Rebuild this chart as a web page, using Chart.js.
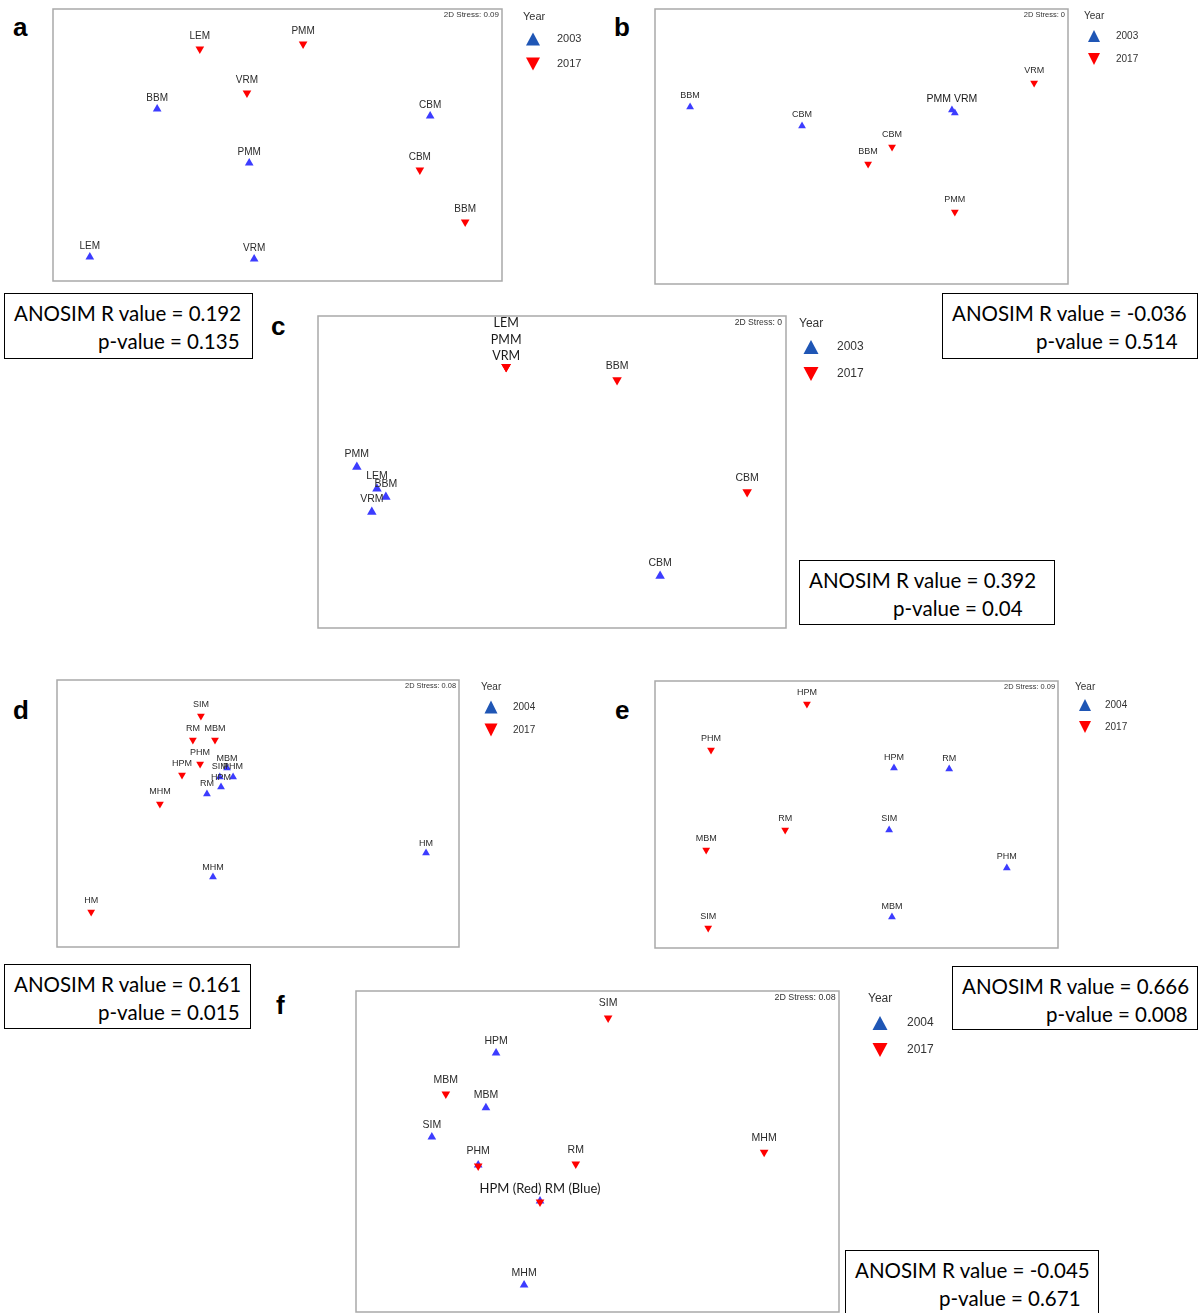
<!DOCTYPE html>
<html><head><meta charset="utf-8">
<script src="https://cdn.jsdelivr.net/npm/chart.js@4.4.0/dist/chart.umd.min.js"></script>
<style>
html,body{margin:0;padding:0;background:#fff;overflow:hidden}
#page{position:relative;width:1202px;height:1313px;overflow:hidden}
canvas{position:absolute}
.letter{position:absolute;font:bold 26px "Liberation Sans",Arial,sans-serif;color:#000;line-height:26px}
.anosim{position:absolute;border:1px solid #000;box-sizing:border-box;font-family:Lato,"Open Sans",sans-serif;font-size:20.5px;color:#000;padding:5px 0 0 9px;line-height:28px;white-space:nowrap;background:#fff}
.anosim .l2{margin-left:84px}
</style></head>
<body><div id="page"></div>
<script>
// ---------------- DATA ----------------
// Panel a (2003 vs 2017)
const a_years = ['2003', '2017'];
const a_sites_early = ['BBM','CBM','PMM','LEM','VRM'];
const a_x_early = [23.2, 84.0, 43.7, 8.2, 44.8];
const a_y_early = [63.2, 60.7, 43.4, 8.8, 8.1];
const a_sites_late = ['LEM','PMM','VRM','CBM','BBM'];
const a_x_late = [32.7, 55.7, 43.2, 81.7, 91.8];
const a_y_late = [85.3, 87.1, 69.1, 40.8, 21.7];

// Panel b (2003 vs 2017)
const b_years = ['2003', '2017'];
const b_sites_early = ['BBM','CBM','PMM','VRM'];
const b_labels_early = ['BBM','CBM','PMM VRM',''];
const b_x_early = [8.5, 35.6, 71.9, 72.6];
const b_y_early = [64.4, 57.5, 63.3, 62.2];
const b_sites_late = ['VRM','CBM','BBM','PMM'];
const b_x_late = [91.8, 57.4, 51.6, 72.6];
const b_y_late = [73.1, 49.8, 43.6, 26.2];

// Panel c (2003 vs 2017)
const c_years = ['2003', '2017'];
const c_sites_early = ['PMM','LEM','BBM','VRM','CBM'];
const c_x_early = [8.3, 12.6, 14.5, 11.5, 73.1];
const c_y_early = [51.6, 44.6, 42.0, 37.2, 16.7];
const c_sites_late = ['LEM','PMM','VRM','BBM','CBM'];
const c_labels_late = ['LEM\nPMM\nVRM','','','BBM','CBM'];
const c_x_late = [40.2, 40.2, 40.2, 63.9, 91.7];
const c_y_late = [83.7, 83.7, 83.7, 79.5, 43.6];

// Panel d (2004 vs 2017)
const d_years = ['2004', '2017'];
const d_sites_early = ['MBM','SIM','PHM','HPM','RM','MHM','HM'];
const d_x_early = [42.3, 40.5, 43.8, 40.8, 37.3, 38.8, 91.8];
const d_y_early = [67.0, 63.7, 63.7, 59.9, 57.3, 26.2, 35.2];
const d_sites_late = ['SIM','RM','MBM','PHM','HPM','MHM','HM'];
const d_x_late = [35.8, 33.8, 39.3, 35.6, 31.1, 25.6, 8.5];
const d_y_late = [86.5, 77.5, 77.5, 68.5, 64.4, 53.6, 13.1];

// Panel e (2004 vs 2017)
const e_years = ['2004', '2017'];
const e_sites_early = ['HPM','RM','SIM','PHM','MBM'];
const e_x_early = [59.3, 73.0, 58.1, 87.3, 58.8];
const e_y_early = [67.4, 67.0, 44.2, 30.0, 11.6];
const e_sites_late = ['HPM','PHM','RM','MBM','SIM'];
const e_x_late = [37.7, 13.9, 32.3, 12.7, 13.2];
const e_y_late = [91.4, 74.2, 44.2, 36.7, 7.5];

// Panel f (2004 vs 2017)
const f_years = ['2004', '2017'];
const f_sites_early = ['HPM','MBM','SIM','PHM','RM','MHM'];
const f_labels_early = ['HPM','MBM','SIM','','','MHM'];
const f_x_early = [29.0, 26.9, 15.7, 25.3, 38.1, 34.8];
const f_y_early = [80.7, 63.6, 54.5, 45.8, 34.6, 8.4];
const f_sites_late = ['SIM','MBM','RM','MHM','PHM','HPM'];
const f_labels_late = ['SIM','MBM','RM','MHM','PHM','HPM (Red) RM (Blue)'];
const f_x_late = [52.2, 18.6, 45.5, 84.5, 25.3, 38.1];
const f_y_late = [91.6, 67.9, 46.1, 49.8, 45.5, 34.3];

const stress = ['0.09', '0', '0', '0.08', '0.09', '0.08'];
const anosim_R = ['0.192', '-0.036', '0.392', '0.161', '0.666', '-0.045'];
const anosim_p = ['0.135', '0.514', '0.04', '0.015', '0.008', '0.671'];

// ---------------- LAYOUT / STYLE ----------------
const SANS = '"Liberation Sans", Arial, Helvetica, sans-serif';
const BLUE_PT = '#3c3cff', RED_PT = '#ff0000', BLUE_LEG = '#1f56b5', RED_LEG = '#ff0000';

const panels = [
 {key:'a', years:a_years, early:[a_sites_early, a_x_early, a_y_early, a_sites_early], late:[a_sites_late, a_x_late, a_y_late, a_sites_late],
  box:[53,9,449,272], r:5, lbl:10, dy:[12.5,10.7], stressPx:8, stressDy:6, stressDx:3,
  leg:{font:11, yearX:21, yearY:8, triX:31, triY:[30,55], textX:55, tw:14, th:13, w:100}, letter:[13,14], anosim:[4,293,249,66]},
 {key:'b', years:b_years, early:[b_sites_early, b_x_early, b_y_early, b_labels_early], late:[b_sites_late, b_x_late, b_y_late, b_sites_late],
  box:[655,9,413,275], r:4.5, lbl:9, dy:[12.4,11], stressPx:7.5, stressDy:6, stressDx:3,
  leg:{font:10, yearX:16, yearY:7, triX:26, triY:[27,50], textX:48, tw:12, th:12, w:134, clip:70}, letter:[614,14], anosim:[942,293,256,66],
  special:{ds:1, idx:2, font:'10.5px '+SANS, dy:11, lh:0}},
 {key:'c', years:c_years, early:[c_sites_early, c_x_early, c_y_early, c_sites_early], late:[c_sites_late, c_x_late, c_y_late, c_labels_late],
  box:[318,316,468,312], r:5.5, lbl:10.5, dy:[14,13], stressPx:8.6, stressDy:7, stressDx:4,
  leg:{font:12, yearX:13, yearY:8, triX:25, triY:[31,58], textX:51, tw:15, th:14, w:100}, letter:[271,313], anosim:[799,560,256,65],
  special:{ds:0, idx:0, font:'12.5px Lato, sans-serif', dy:11, lh:16.3}},
 {key:'d', years:d_years, early:[d_sites_early, d_x_early, d_y_early, d_sites_early], late:[d_sites_late, d_x_late, d_y_late, d_sites_late],
  box:[57,680,402,267], r:4.5, lbl:9, dy:[12,10], stressPx:7.4, stressDy:6, stressDx:3,
  leg:{font:10, yearX:22, yearY:7, triX:32, triY:[27,50], textX:54, tw:13, th:13, w:100}, letter:[13,697], anosim:[4,964,247,65]},
 {key:'e', years:e_years, early:[e_sites_early, e_x_early, e_y_early, e_sites_early], late:[e_sites_late, e_x_late, e_y_late, e_sites_late],
  box:[655,681,403,267], r:4.5, lbl:9, dy:[11.6,11], stressPx:7.4, stressDy:6, stressDx:3,
  leg:{font:10, yearX:17, yearY:6, triX:27, triY:[24,46], textX:47, tw:12, th:12, w:130}, letter:[615,697], anosim:[952,966,246,64]},
 {key:'f', years:f_years, early:[f_sites_early, f_x_early, f_y_early, f_labels_early], late:[f_sites_late, f_x_late, f_y_late, f_labels_late],
  box:[356,991,483,321], r:5, lbl:10.5, dy:[14.4,12.3], stressPx:8.9, stressDy:7, stressDx:3.3,
  leg:{font:12, yearX:29, yearY:8, triX:41, triY:[32,59], textX:68, tw:15, th:14, w:100}, letter:[276,992], anosim:[845,1250,254,70],
  special:{ds:0, idx:5, font:'13px Lato, sans-serif', dy:13.4, lh:0}},
];

function tri(ctx, cx, cy, w, h, up, color){
  ctx.beginPath();
  if(up){ ctx.moveTo(cx, cy-h/2); ctx.lineTo(cx+w/2, cy+h/2); ctx.lineTo(cx-w/2, cy+h/2); }
  else { ctx.moveTo(cx, cy+h/2); ctx.lineTo(cx+w/2, cy-h/2); ctx.lineTo(cx-w/2, cy-h/2); }
  ctx.closePath(); ctx.fillStyle = color; ctx.fill();
}

const decor = {
  id:'decor',
  beforeDatasetsDraw(chart){
    const ca = chart.chartArea, ctx = chart.ctx;
    ctx.save(); ctx.strokeStyle = '#a9a9a9'; ctx.lineWidth = 1.5;
    ctx.strokeRect(ca.left, ca.top, ca.right-ca.left, ca.bottom-ca.top);
    ctx.restore();
  },
  afterDatasetsDraw(chart){
    const o = chart.options.plugins.decor, ca = chart.chartArea, ctx = chart.ctx, P = o.panel;
    ctx.save();
    ctx.textAlign = 'center'; ctx.textBaseline = 'middle';
    chart.data.datasets.forEach((ds, di) => {
      const meta = chart.getDatasetMeta(di);
      meta.data.forEach((el, i) => {
        const t = ds.siteLabels[i]; if(!t) return;
        const sp = P.special && P.special.ds === di && P.special.idx === i;
        if(sp){
          ctx.font = P.special.font; ctx.fillStyle = '#1a1a1a';
          const lines = t.split('\n');
          lines.forEach((ln,k) => ctx.fillText(ln, el.x, el.y - P.special.dy - (lines.length-1-k)*P.special.lh));
        } else {
          ctx.font = P.lbl + 'px ' + SANS; ctx.fillStyle = '#2b2b2b';
          ctx.fillText(t, el.x, el.y - P.dy[di]);
        }
      });
    });
    // stress
    ctx.font = P.stressPx + 'px ' + SANS; ctx.fillStyle = '#333'; ctx.textAlign = 'right';
    ctx.fillText('2D Stress: ' + o.stress, ca.right - P.stressDx, ca.top + P.stressDy);
    // legend
    const L = P.leg;
    if(L.clip){ ctx.beginPath(); ctx.rect(ca.right, ca.top-20, L.clip, 200); ctx.clip(); }
    ctx.textAlign = 'left'; ctx.font = L.font + 'px ' + SANS; ctx.fillStyle = '#333';
    ctx.fillText('Year', ca.right + L.yearX, ca.top + L.yearY);
    tri(ctx, ca.right + L.triX, ca.top + L.triY[0], L.tw, L.th, true, BLUE_LEG);
    tri(ctx, ca.right + L.triX, ca.top + L.triY[1], L.tw, L.th, false, RED_LEG);
    ctx.fillStyle = '#333';
    ctx.fillText(P.years[0], ca.right + L.textX, ca.top + L.triY[0]);
    ctx.fillText(P.years[1], ca.right + L.textX, ca.top + L.triY[1]);
    ctx.restore();
  }
};

const page = document.getElementById('page');
panels.forEach((P, pi) => {
  const [bx, by, bw, bh] = P.box, M = 12;
  const cv = document.createElement('canvas');
  const W = bw + M + P.leg.w, H = bh + 2*M;
  cv.width = W; cv.height = H;
  cv.style.left = (bx - M) + 'px'; cv.style.top = (by - M) + 'px';
  cv.style.width = W + 'px'; cv.style.height = H + 'px';
  page.appendChild(cv);

  const mk = (arr) => arr[1].map((x,i) => ({x, y: arr[2][i]}));
  new Chart(cv.getContext('2d'), {
    type:'scatter',
    data:{ datasets:[
      { label:P.years[1], data:mk(P.late), siteLabels:P.late[3], pointStyle:'triangle', rotation:180,
        pointRadius:P.r, pointHoverRadius:P.r, backgroundColor:RED_PT, borderColor:RED_PT, borderWidth:0, order:0 },
      { label:P.years[0], data:mk(P.early), siteLabels:P.early[3], pointStyle:'triangle', rotation:0,
        pointRadius:P.r, pointHoverRadius:P.r, backgroundColor:BLUE_PT, borderColor:BLUE_PT, borderWidth:0, order:1 }
    ]},
    options:{
      responsive:false, animation:false, devicePixelRatio:1,
      layout:{ padding:{ left:M, top:M, bottom:M, right:P.leg.w } },
      scales:{ x:{ type:'linear', min:0, max:100, display:false }, y:{ type:'linear', min:0, max:100, display:false } },
      plugins:{ legend:{display:false}, tooltip:{enabled:false}, decor:{ panel:P, stress:stress[pi] } },
      clip:false
    },
    plugins:[decor]
  });

  const lt = document.createElement('div');
  lt.className = 'letter'; lt.textContent = P.key;
  lt.style.left = P.letter[0] + 'px'; lt.style.top = P.letter[1] + 'px';
  page.appendChild(lt);

  const an = document.createElement('div');
  an.className = 'anosim';
  const [ax, ay, aw, ah] = P.anosim;
  an.style.left = ax + 'px'; an.style.top = ay + 'px'; an.style.width = aw + 'px'; an.style.height = ah + 'px';
  const l1 = document.createElement('div'); l1.textContent = 'ANOSIM R value = ' + anosim_R[pi];
  const l2 = document.createElement('div'); l2.className = 'l2'; l2.textContent = 'p-value = ' + anosim_p[pi];
  an.appendChild(l1); an.appendChild(l2);
  page.appendChild(an);
});
</script>
</body></html>
